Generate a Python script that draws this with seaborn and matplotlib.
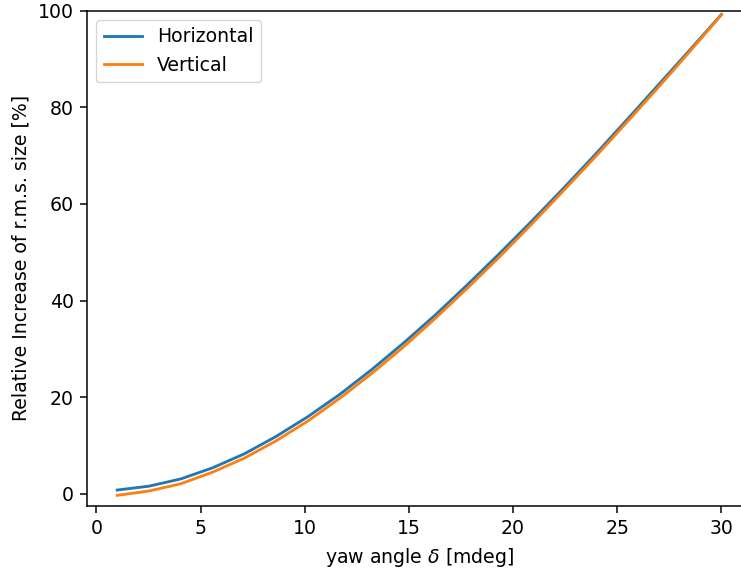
import numpy as np
import pandas as pd
import seaborn as sns
import matplotlib
matplotlib.use('Agg')
import matplotlib.pyplot as plt

# yaw angle samples [mdeg]
yaw = [1.0, 2.526, 4.053, 5.579, 7.105, 8.632, 10.158, 11.684, 13.211, 14.737,
       16.263, 17.789, 19.316, 20.842, 22.368, 23.895, 25.421, 26.947, 28.474, 30.0]

# relative increase of r.m.s. size [%]
horizontal = [0.8, 1.6, 3.1, 5.4, 8.3, 11.9, 16.0, 20.6, 25.7, 31.2,
              37.0, 43.2, 49.6, 56.2, 63.0, 70.0, 77.2, 84.5, 91.8, 99.2]
vertical = [-0.3, 0.6, 2.1, 4.5, 7.4, 11.0, 15.1, 19.8, 24.9, 30.4,
            36.3, 42.5, 48.9, 55.6, 62.5, 69.5, 76.7, 84.0, 91.5, 99.1]

df = pd.DataFrame({
    'yaw': yaw * 2,
    'increase': horizontal + vertical,
    'plane': ['Horizontal'] * len(yaw) + ['Vertical'] * len(yaw),
})

# the original looks like a default figure scaled up ~1.35x
s = 1.355
plt.rcParams.update({
    'font.size': 10 * s,
    'axes.linewidth': 0.8 * s,
    'xtick.major.size': 3.5 * s,
    'ytick.major.size': 3.5 * s,
    'xtick.major.width': 0.8 * s,
    'ytick.major.width': 0.8 * s,
    'xtick.major.pad': 3.5 * s,
    'ytick.major.pad': 3.5 * s,
    'axes.labelpad': 4.0 * s,
})

fig = plt.figure(figsize=(7.41, 5.72), dpi=100)
# axes runs past the right edge, like the cropped original
ax = fig.add_axes([0.1174, 0.1154, 0.897, 0.8662])
sns.lineplot(data=df, x='yaw', y='increase', hue='plane',
             palette=['#1f77b4', '#ff7f0e'], linewidth=1.5 * s, ax=ax)
ax.set_xlim(-0.45, 31.45)
ax.set_ylim(-2.5, 100)
ax.set_xlabel(r'yaw angle $\delta$ [mdeg]')
ax.set_ylabel('Relative Increase of r.m.s. size [%]')
ax.legend(title=None, loc='upper left')
fig.savefig('out.png', dpi=100)
